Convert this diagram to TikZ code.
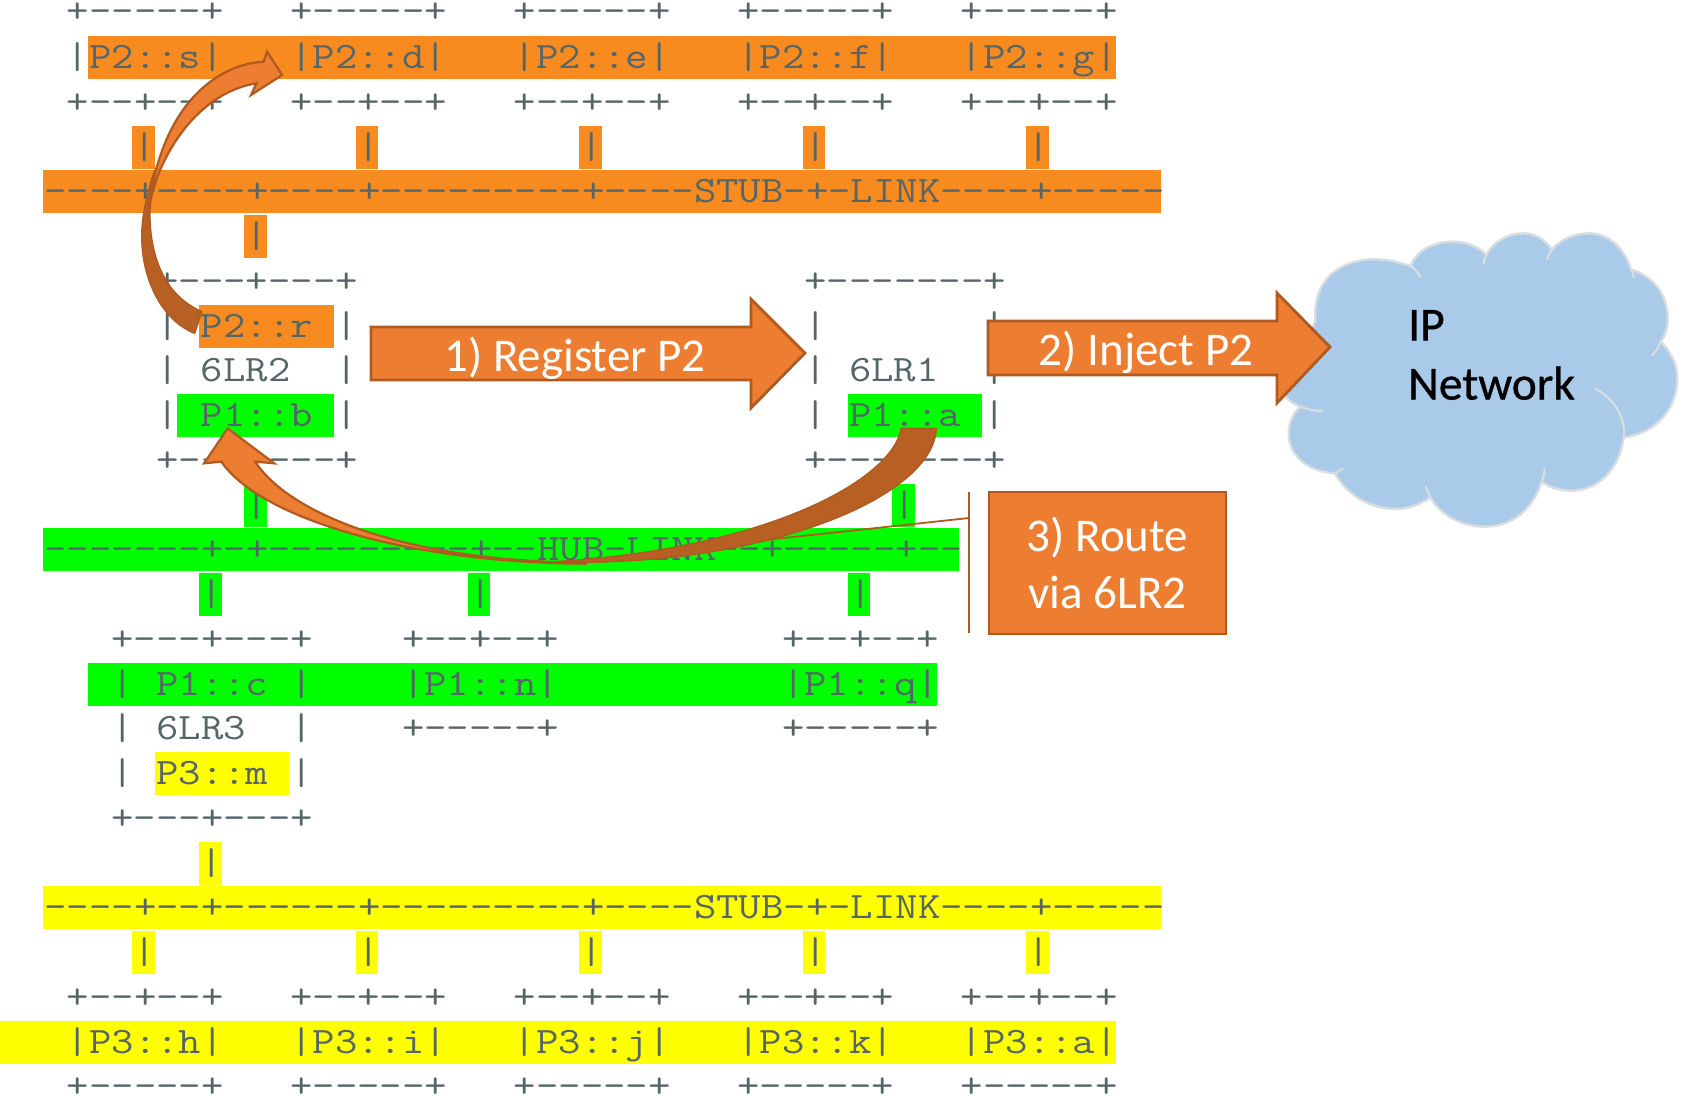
\documentclass[tikz,border=0pt]{standalone}
\usepackage{fontspec}
\setmainfont{Carlito}
\newfontfamily\ascfont[FakeStretch=1.166]{Latin Modern Mono}
\newfontfamily\ipfont[FakeBold=0.7]{Carlito}
\definecolor{bgor}{HTML}{F78B20}
\definecolor{bggr}{HTML}{00FF00}
\definecolor{bgye}{HTML}{FFFF00}
\definecolor{asctxt}{HTML}{566668}
\definecolor{arfill}{HTML}{ED7D31}
\definecolor{arline}{HTML}{AE5A21}
\definecolor{ardark}{HTML}{B86024}
\definecolor{cloudf}{HTML}{A9CAE8}
\definecolor{cloudl}{HTML}{D8DDE0}
\tikzset{
  asc/.style={anchor=base west,inner sep=0pt,outer sep=0pt,text=asctxt,font=\ascfont\fontsize{37.3}{37.3}\selectfont},
  blockar/.style={fill=arfill,draw=arline,line width=2.8pt,line join=miter},
  curvear/.style={fill=arfill,draw=arline,line width=2.2pt,line join=miter},
  curvedk/.style={fill=ardark,draw=arline,line width=1.4pt,line join=round},
  arlabel/.style={inner sep=0pt,text=white,font=\fontsize{47}{57}\selectfont,align=center},
  cloudbody/.style={fill=cloudf,draw=cloudl,line width=2.4pt,line join=round},
  cloudarc/.style={draw=cloudl,line width=2.2pt},
}
\newcommand{\ascrow}[4]{\node[asc] (#1) at ({44.5+22.35*#2},{57.5+44.75*(#3-2)+11}) {#4};}
\newcommand{\bgc}[4]{\fill[#4] ({43+22.35*(#1)},{57.5+44.75*(#3-2)-21.5}) rectangle ({43+22.35*(#2)},{57.5+44.75*(#3-2)+21.5});}
\begin{document}
\begin{tikzpicture}[x=1pt,y=-1pt]
\useasboundingbox (0,0) rectangle (1683,1098);
% colour bands
\bgc{2}{48}{2}{bgor}
\foreach \c in {4,14,24,34,44}{\bgc{\c}{\c+1}{4}{bgor}}
\bgc{0}{50}{5}{bgor}
\bgc{9}{10}{6}{bgor}
\bgc{7}{13}{8}{bgor}
\bgc{6}{13}{10}{bggr}
\bgc{36}{42}{10}{bggr}
\bgc{9}{10}{12}{bggr}
\bgc{38}{39}{12}{bggr}
\bgc{0}{41}{13}{bggr}
\foreach \c in {7,19,36}{\bgc{\c}{\c+1}{14}{bggr}}
\bgc{2}{40}{16}{bggr}
\bgc{5}{11}{18}{bgye}
\bgc{7}{8}{20}{bgye}
\bgc{0}{50}{21}{bgye}
\foreach \c in {4,14,24,34,44}{\bgc{\c}{\c+1}{22}{bgye}}
\fill[bgye] (0,{57.5+44.75*22-21.5}) rectangle ({43+22.35*48},{57.5+44.75*22+21.5});
% ascii art
\foreach \c/\n in {1/a,11/b,21/c,31/d,41/e}{\ascrow{top\n}{\c}{0.97}{+-----+}}
\ascrow{ps}{1}{2}{|P2::s|}
\ascrow{pd}{11}{2}{|P2::d|}
\ascrow{pe}{21}{2}{|P2::e|}
\ascrow{pf}{31}{2}{|P2::f|}
\ascrow{pg}{41}{2}{|P2::g|}
\foreach \c/\n in {1/a,11/b,21/c,31/d,41/e}{\ascrow{bot\n}{\c}{3}{+--+--+}}
\foreach \c/\n in {4/a,14/b,24/c,34/d,44/e}{\ascrow{up\n}{\c}{4}{|}}
\ascrow{stubA}{0}{5}{----+----+----+---------+----STUB-+-LINK----+-----}
\ascrow{upr}{9}{6}{|}
\ascrow{lra}{5}{7}{+---+---+}
\ascrow{lrb}{34}{7}{+-------+}
\ascrow{la}{5}{8}{|}
\ascrow{pr}{7}{8}{P2::r}
\ascrow{lb}{13}{8}{|}
\ascrow{lc}{34}{8}{|}
\ascrow{ld}{42}{8}{|}
\ascrow{le}{5}{9}{|}
\ascrow{lrtwo}{7}{9}{6LR2}
\ascrow{lf}{13}{9}{|}
\ascrow{lg}{34}{9}{|}
\ascrow{lrone}{36}{9}{6LR1}
\ascrow{lh}{42}{9}{|}
\ascrow{li}{5}{10}{|}
\ascrow{pb}{7}{10}{P1::b}
\ascrow{lj}{13}{10}{|}
\ascrow{lk}{34}{10}{|}
\ascrow{pa}{36}{10}{P1::a}
\ascrow{ll}{42}{10}{|}
\ascrow{lrc}{5}{11}{+---+---+}
\ascrow{lrd}{34}{11}{+---+---+}
\ascrow{hua}{9}{12}{|}
\ascrow{hux}{38}{12}{|}
\ascrow{hub}{0}{13}{-------+-+---------+--HUB-LINK--+-----+--}
\ascrow{dna}{7}{14}{|}
\ascrow{dnb}{19}{14}{|}
\ascrow{dnc}{36}{14}{|}
\ascrow{lre}{3}{15}{+---+---+}
\ascrow{nta}{16}{15}{+--+--+}
\ascrow{ntb}{33}{15}{+--+--+}
\ascrow{ma}{3}{16}{|}
\ascrow{pc}{5}{16}{P1::c}
\ascrow{mb}{11}{16}{|}
\ascrow{pn}{16}{16}{|P1::n|}
\ascrow{pq}{33}{16}{|P1::q|}
\ascrow{mc}{3}{17}{|}
\ascrow{lrthree}{5}{17}{6LR3}
\ascrow{md}{11}{17}{|}
\ascrow{nbt}{16}{17}{+-----+}
\ascrow{nbq}{33}{17}{+-----+}
\ascrow{me}{3}{18}{|}
\ascrow{pm}{5}{18}{P3::m}
\ascrow{mf}{11}{18}{|}
\ascrow{lrf}{3}{19}{+---+---+}
\ascrow{upm}{7}{20}{|}
\ascrow{stubB}{0}{21}{----+--+------+---------+----STUB-+-LINK----+-----}
\foreach \c/\n in {4/a,14/b,24/c,34/d,44/e}{\ascrow{dw\n}{\c}{22}{|}}
\foreach \c/\n in {1/a,11/b,21/c,31/d,41/e}{\ascrow{tp\n}{\c}{23}{+--+--+}}
\ascrow{ph}{1}{24}{|P3::h|}
\ascrow{pi}{11}{24}{|P3::i|}
\ascrow{pj}{21}{24}{|P3::j|}
\ascrow{pk}{31}{24}{|P3::k|}
\ascrow{pz}{41}{24}{|P3::a|}
\foreach \c/\n in {1/a,11/b,21/c,31/d,41/e}{\ascrow{bt\n}{\c}{25}{+-----+}}
% cloud, in the units of a 1.68 x 3 enlargement
\begin{scope}[shift={(750,210)}]
\begin{scope}[x=0.5952pt,y=-0.3333pt]
\path[cloudbody] (950,330)
 .. controls (945,210) and (990,148) .. (1050,148)
 .. controls (1075,148) and (1095,160) .. (1110,168)
 .. controls (1120,120) and (1150,95) .. (1180,95)
 .. controls (1205,95) and (1225,112) .. (1237,135)
 .. controls (1250,92) and (1275,70) .. (1300,70)
 .. controls (1320,70) and (1337,90) .. (1347,120)
 .. controls (1360,90) and (1385,70) .. (1410,70)
 .. controls (1445,70) and (1470,120) .. (1480,178)
 .. controls (1520,200) and (1542,260) .. (1542,325)
 .. controls (1542,360) and (1535,385) .. (1530,395)
 .. controls (1550,430) and (1558,470) .. (1558,505)
 .. controls (1558,590) and (1525,670) .. (1468,682)
 .. controls (1460,780) and (1425,842) .. (1380,842)
 .. controls (1360,842) and (1340,830) .. (1330,815)
 .. controls (1315,900) and (1280,950) .. (1235,950)
 .. controls (1195,950) and (1160,915) .. (1143,862)
 .. controls (1125,885) and (1105,897) .. (1085,897)
 .. controls (1040,897) and (1000,850) .. (983,790)
 .. controls (935,785) and (905,735) .. (905,670)
 .. controls (905,640) and (912,610) .. (925,590)
 .. controls (880,560) and (880,480) .. (900,420)
 .. controls (920,390) and (945,370) .. (950,330) -- cycle;
\draw[cloudarc] (1110,168) .. controls (1118,178) and (1124,190) .. (1127,202);
\draw[cloudarc] (1237,135) .. controls (1234,145) and (1232,155) .. (1232,163);
\draw[cloudarc] (1347,120) .. controls (1343,130) and (1340,140) .. (1339,150);
\draw[cloudarc] (1480,178) .. controls (1483,188) and (1485,195) .. (1485,205);
\draw[cloudarc] (1530,395) .. controls (1527,410) and (1522,425) .. (1515,436);
\draw[cloudarc] (1420,535) .. controls (1452,565) and (1472,625) .. (1468,682);
\draw[cloudarc] (1335,775) .. controls (1335,790) and (1333,805) .. (1330,815);
\draw[cloudarc] (1135,828) .. controls (1137,840) and (1140,852) .. (1143,862);
\draw[cloudarc] (983,790) .. controls (987,785) and (992,780) .. (997,776);
\draw[cloudarc] (925,590) .. controls (935,598) and (950,603) .. (963,603);
\end{scope}
\end{scope}
% block arrows
\path[blockar] (371,327) -- (751,327) -- (751,299) -- (805,353) -- (751,408) -- (751,380) -- (371,380) -- cycle;
\node[arlabel] (reg) at (575,358) {1) Register P2};
\path[blockar] (988,321) -- (1277,321) -- (1277,293) -- (1330,347) -- (1277,403) -- (1277,375) -- (988,375) -- cycle;
\node[arlabel] (inj) at (1146,352) {2) Inject P2};
\node[inner sep=0pt,anchor=west,align=left,text=black,font=\ipfont\fontsize{47.5}{59}\selectfont] (ipnet) at (1408,355) {IP\\Network};
% callout
\coordinate (brtop) at (969,492);
\coordinate (brbot) at (969,633);
\coordinate (brmid) at (969,518);
\coordinate (lead) at (765,540);
\node[draw=arline,fill=arfill,line width=2.8pt,minimum width=237pt,minimum height=142pt,inner sep=0pt,arlabel] (via) at (1107.5,563) {3) Route\\via 6LR2};
% curved arrow from P2::r to above P2::d
\begin{scope}[x=0.35714pt,y=-0.3333pt]
\path[curvedk] (565,935) .. controls (470,890) and (425,790) .. (420,660)
  .. controls (418,580) and (430,530) .. (452,470)
  -- (430,520) .. controls (410,590) and (397,650) .. (397,705)
  .. controls (395,830) and (450,960) .. (545,1000) -- cycle;
\path[curvear] (738,185) .. controls (590,195) and (440,340) .. (415,650)
  .. controls (425,500) and (540,280) .. (718,250)
  -- (703,285) -- (790,225) -- (748,155) -- cycle;
\end{scope}
% curved arrow from P1::a to P1::b
\begin{scope}[shift={(0,420)}]
\begin{scope}[x=0.63776pt,y=-0.3333pt]
\path[curvedk] (1413,25) .. controls (1400,180) and (1200,390) .. (860,426)
  .. controls (1200,445) and (1465,230) .. (1468,25) -- cycle;
\path[curvear] (400,125) .. controls (450,270) and (600,385) .. (800,418)
  .. controls (840,424) and (880,428) .. (920,431)
  .. controls (650,430) and (410,300) .. (347,125)
  -- (320,130) -- (357,25) -- (430,130) -- cycle;
\end{scope}
\end{scope}
\draw[arline,line width=1.8pt] (brtop) -- (brbot);
\draw[arline,line width=1.8pt] (brmid) -- (lead);
\end{tikzpicture}
\end{document}
